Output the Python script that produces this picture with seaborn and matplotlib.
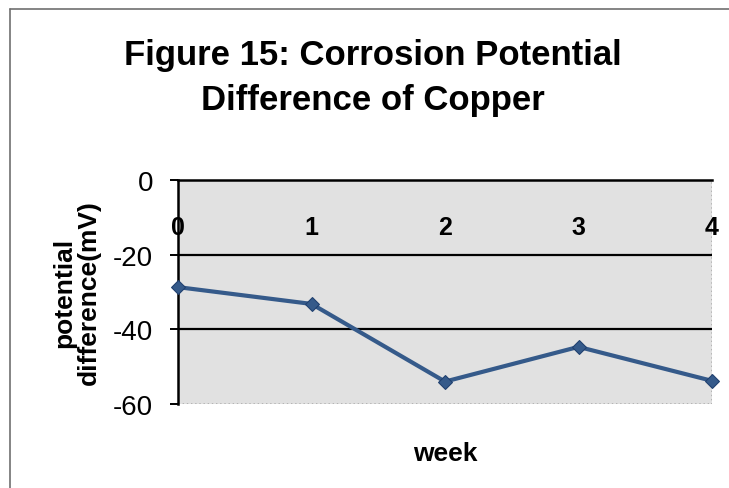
import matplotlib
matplotlib.use('Agg')
import matplotlib.pyplot as plt
import pandas as pd
import seaborn as sns
from matplotlib.lines import Line2D

weeks = [0, 1, 2, 3, 4]
potential_mv = [-28.7, -33.2, -54, -44.7, -53.8]
y_ticks = [0, -20, -40, -60]

sns.set_style('white')
plt.rcParams['font.family'] = ['Liberation Sans', 'DejaVu Sans']
plt.rcParams.update({'text.color': 'black', 'axes.labelcolor': 'black',
                     'xtick.color': 'black', 'ytick.color': 'black'})

df = pd.DataFrame({'week': weeks, 'potential': potential_mv})

fig = plt.figure(figsize=(7.29, 4.89), dpi=100)
ax = fig.add_axes([0.2442, 0.1718, 0.7325, 0.4581])
ax.set_facecolor('#e1e1e1')

sns.lineplot(data=df, x='week', y='potential', ax=ax, color='#355a8a',
             linewidth=3, marker='D', markersize=7, markeredgecolor='#1f3f6e',
             clip_on=False, zorder=5)

ax.set_xlim(0, 4)
ax.set_ylim(-60, 0)

# category axis crosses at 0 (top of the plot)
ax.spines['bottom'].set_position(('data', 0))
for side in ['left', 'bottom']:
    ax.spines[side].set_color('black')
    ax.spines[side].set_linewidth(1.8)
for side in ['top', 'right']:
    ax.spines[side].set_visible(False)
ax.axhline(-60, color='black', linewidth=1.0, linestyle=(0, (1, 2)))
ax.axvline(4, color='black', linewidth=1.0, linestyle=(0, (1, 2)))

ax.grid(False)
for y in [-20, -40]:
    ax.axhline(y, color='black', linewidth=1.6, zorder=1)

ax.set_xticks(weeks)
ax.set_xticklabels([str(w) for w in weeks], fontsize=18, fontweight='bold')
ax.set_yticks(y_ticks)
ax.set_yticklabels([str(t) for t in y_ticks], fontsize=20)
ax.tick_params(axis='x', direction='out', length=5, width=1.4, pad=20)
ax.tick_params(axis='y', direction='out', length=6, width=1.4, pad=12, left=True)

ax.set_xlabel('week', fontsize=19, fontweight='bold')
ax.xaxis.set_label_coords(0.5, -0.165)
ax.set_ylabel('potential\ndifference(mV)', fontsize=19, fontweight='bold',
              linespacing=1.0)
ax.yaxis.set_label_coords(-0.145, 0.5)

fig.text(0.512, 1 - 65 / 489, 'Figure 15: Corrosion Potential', ha='center',
         va='baseline', fontsize=25, fontweight='bold')
fig.text(0.512, 1 - 110 / 489, 'Difference of Copper', ha='center',
         va='baseline', fontsize=25, fontweight='bold')

# chart frame
fig.add_artist(Line2D([0.014, 0.014], [0.0, 0.98], color='#707070', linewidth=1.2))
fig.add_artist(Line2D([0.014, 1.0], [0.98, 0.98], color='#707070', linewidth=1.2))

fig.savefig('out.png', dpi=100)
